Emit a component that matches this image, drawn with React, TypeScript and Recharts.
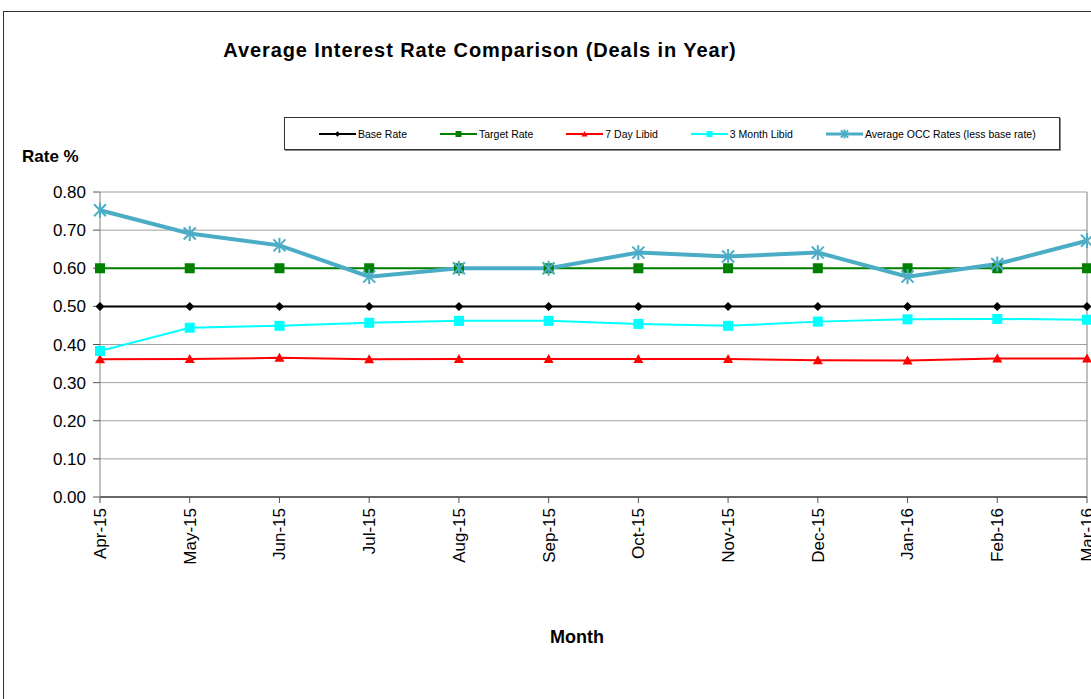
import { LineChart, Line, XAxis, YAxis, CartesianGrid, ReferenceLine } from 'recharts';

const months = ['Apr-15', 'May-15', 'Jun-15', 'Jul-15', 'Aug-15', 'Sep-15', 'Oct-15', 'Nov-15', 'Dec-15', 'Jan-16', 'Feb-16', 'Mar-16'];
const baseRate = [0.5, 0.5, 0.5, 0.5, 0.5, 0.5, 0.5, 0.5, 0.5, 0.5, 0.5, 0.5];
const targetRate = [0.6, 0.6, 0.6, 0.6, 0.6, 0.6, 0.6, 0.6, 0.6, 0.6, 0.6, 0.6];
const libid7 = [0.361, 0.362, 0.365, 0.361, 0.362, 0.362, 0.362, 0.362, 0.359, 0.358, 0.363, 0.363];
const libid3 = [0.383, 0.444, 0.449, 0.457, 0.462, 0.462, 0.454, 0.449, 0.460, 0.466, 0.467, 0.465];
const occRates = [0.752, 0.691, 0.660, 0.578, 0.600, 0.600, 0.641, 0.631, 0.641, 0.578, 0.611, 0.672];
const yTicks = [0, 0.1, 0.2, 0.3, 0.4, 0.5, 0.6, 0.7, 0.8];

const FONT = '"Liberation Sans", Arial, sans-serif';

const chartData = months.map((m, i) => ({
  month: m,
  base: baseRate[i],
  target: targetRate[i],
  libid7: libid7[i],
  libid3: libid3[i],
  occ: occRates[i],
}));

type Shape = 'diamond' | 'square' | 'triangle' | 'star';

const series: { key: string; name: string; color: string; width: number; shape: Shape }[] = [
  { key: 'base', name: 'Base Rate', color: '#000000', width: 2, shape: 'diamond' },
  { key: 'target', name: 'Target Rate', color: '#008000', width: 2, shape: 'square' },
  { key: 'libid7', name: '7 Day Libid', color: '#FF0000', width: 2, shape: 'triangle' },
  { key: 'libid3', name: '3 Month Libid', color: '#00FFFF', width: 2, shape: 'square' },
  { key: 'occ', name: 'Average OCC Rates (less base rate)', color: '#4BACC6', width: 4, shape: 'star' },
];

function marker(shape: Shape, color: string, cx: number, cy: number, s = 1) {
  if (shape === 'diamond') {
    const r = 4.5 * s;
    return <path d={`M${cx},${cy - r}L${cx + r},${cy}L${cx},${cy + r}L${cx - r},${cy}Z`} fill={color} />;
  }
  if (shape === 'square') {
    const r = 5 * s;
    return <rect x={cx - r} y={cy - r} width={2 * r} height={2 * r} fill={color} />;
  }
  if (shape === 'triangle') {
    const r = 5 * s;
    return <path d={`M${cx},${cy - r}L${cx + r},${cy + r * 0.8}L${cx - r},${cy + r * 0.8}Z`} fill={color} />;
  }
  const r = 7.5 * s;
  const d = r * 0.8;
  return (
    <g stroke={color} strokeWidth={2}>
      <line x1={cx - d} y1={cy - d} x2={cx + d} y2={cy + d} />
      <line x1={cx - d} y1={cy + d} x2={cx + d} y2={cy - d} />
      <line x1={cx} y1={cy - r} x2={cx} y2={cy + r} />
    </g>
  );
}

function makeDot(shape: Shape, color: string) {
  return (props: any) => {
    const { cx, cy, index } = props;
    if (cx == null || cy == null) return <g key={index} />;
    return <g key={`${shape}-${index}`}>{marker(shape, color, cx, cy)}</g>;
  };
}

const XTick = (props: any) => {
  const { x, y, payload } = props;
  return (
    <g transform={`translate(${x},${y})`}>
      <text x={0} y={0} dy="0.35em" transform="rotate(-90)" textAnchor="end" fill="#000" fontSize={17} fontFamily={FONT}>
        {payload.value}
      </text>
    </g>
  );
};

export default function App() {
  return (
    <div style={{ position: 'fixed', left: 0, top: 0, width: 1091, height: 699, overflow: 'hidden', background: '#fff', fontFamily: FONT }}>
      <div style={{ position: 'absolute', left: 3, top: 11, width: 1200, height: 800, border: '1px solid #333' }} />
      <div style={{ position: 'absolute', left: 0, width: 960, top: 39, textAlign: 'center', fontSize: 20, fontWeight: 'bold', letterSpacing: 0.9 }}>
        Average Interest Rate Comparison (Deals in Year)
      </div>
      <div style={{ position: 'absolute', left: 22, top: 147, fontSize: 17, fontWeight: 'bold' }}>Rate %</div>
      <div style={{ position: 'absolute', left: 477, width: 200, top: 627, textAlign: 'center', fontSize: 18, fontWeight: 'bold' }}>Month</div>

      <div
        style={{
          position: 'absolute', left: 284, top: 117, width: 776, height: 33, border: '1px solid #333',
          boxShadow: '1px 1px 0 #888', display: 'flex', alignItems: 'center', paddingLeft: 34, boxSizing: 'border-box', gap: 33,
          fontSize: 10.5,
        }}
      >
        {series.map(s => (
          <div key={s.key} style={{ display: 'flex', alignItems: 'center' }}>
            <svg width={37} height={12} style={{ marginRight: 2 }}>
              <line x1={0} y1={6} x2={37} y2={6} stroke={s.color} strokeWidth={s.width === 4 ? 3 : 2} />
              {marker(s.shape, s.color, 18.5, 6, 0.6)}
            </svg>
            <span>{s.name}</span>
          </div>
        ))}
      </div>

      <div style={{ position: 'absolute', left: 0, top: 0 }}>
        <LineChart width={1091} height={699} data={chartData} margin={{ top: 192, right: 4, bottom: 122, left: 30 }}>
          <CartesianGrid vertical={false} stroke="#a0a0a0" />
          <XAxis
            dataKey="month"
            interval={0}
            height={80}
            tick={<XTick />}
            tickSize={6}
            tickMargin={5}
            axisLine={{ stroke: '#000' }}
            tickLine={{ stroke: '#555' }}
          />
          <YAxis
            domain={[0, 0.8]}
            ticks={yTicks}
            width={70}
            tickFormatter={(v: number) => v.toFixed(2)}
            tick={{ fill: '#000', fontSize: 17, fontFamily: FONT }}
            tickSize={7}
            tickMargin={7}
            axisLine={{ stroke: '#808080' }}
            tickLine={{ stroke: '#555' }}
          />
          <ReferenceLine x="Mar-16" stroke="#808080" />
          {series.map(s => (
            <Line
              key={s.key}
              type="linear"
              dataKey={s.key}
              name={s.name}
              stroke={s.color}
              strokeWidth={s.width}
              dot={makeDot(s.shape, s.color)}
              activeDot={false}
              isAnimationActive={false}
            />
          ))}
        </LineChart>
      </div>
    </div>
  );
}
